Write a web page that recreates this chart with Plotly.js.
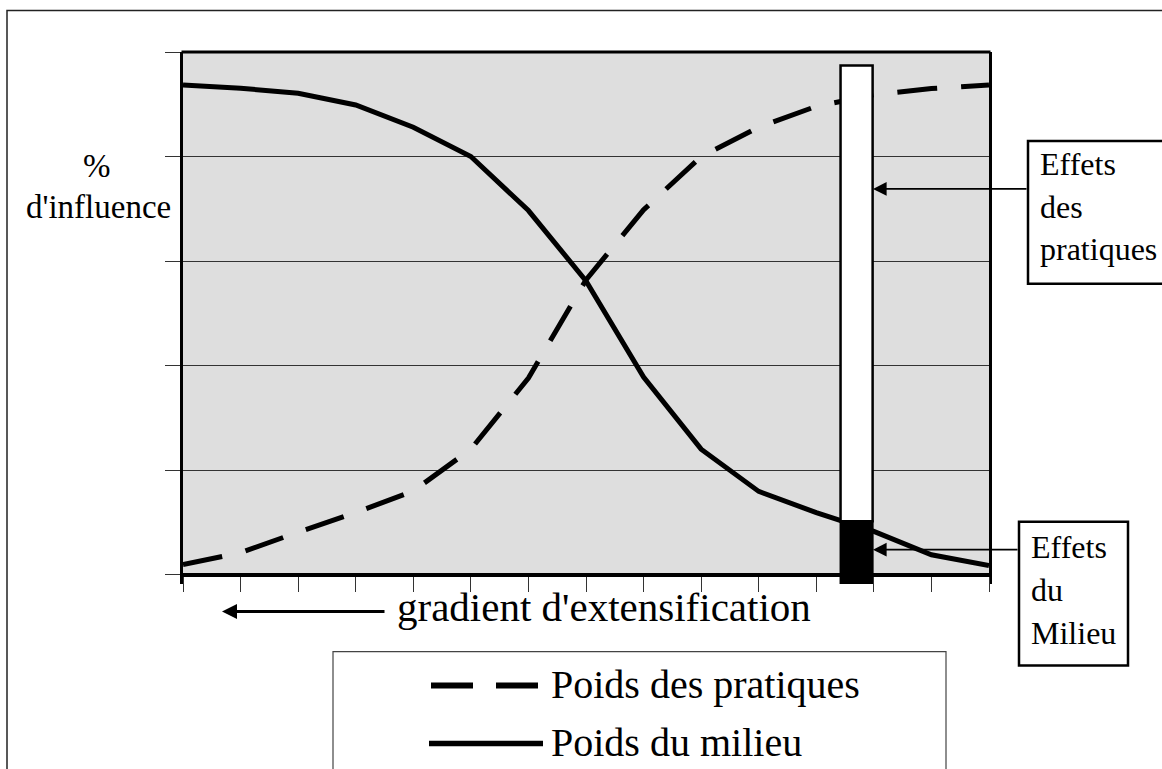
<!DOCTYPE html>
<html><head><meta charset="utf-8">
<script src="https://cdn.plot.ly/plotly-3.0.1.min.js"></script>
<style>html,body{margin:0;padding:0;background:#fff}#chart{width:1162px;height:769px}</style>
</head><body><div id="chart"></div>
<script>
// ---- data ----
const positions = [0,1,2,3,4,5,6,7,8,9,10,11,12,13,14];
const poidsPratiques = [0.096,0.21,0.406,0.593,0.80,1.20,1.88,2.82,3.49,4.0,4.28,4.48,4.59,4.65,4.685];
const poidsMilieu = [4.685,4.653,4.605,4.493,4.28,4.0,3.483,2.81,1.89,1.20,0.796,0.593,0.414,0.19,0.086];
const yTicks = [0,1,2,3,4,5];
const seriesNames = ['Poids des pratiques','Poids du milieu'];
const effetsBarPos = [11.7];
const effetsMilieu = [-0.09, 0.51];     // [bottom, top]
const effetsPratiques = [0.51, 4.87];   // [bottom, top]
const yLabelLines = ['%', "d'influence"];
const xTitle = "gradient d'extensification";
const pratiquesBoxLines = ['Effets','des','pratiques'];
const milieuBoxLines = ['Effets','du','Milieu'];

// ---- geometry helpers (plot area in pixels) ----
const W = 1162, H = 769;
const L = 183, R = 989, T = 52, B = 584.4;
const yMin = -0.09, yMax = 5;
const px = x => (x - L) / (R - L);
const py = y => (B - y) / (B - T);
const FONT = 'Liberation Serif, Times New Roman, serif';

const traces = [
  {x: positions, y: poidsPratiques, name: seriesNames[0], mode: 'lines',
   line: {color: '#000', width: 5, dash: '40px,24px'}, showlegend: false, hoverinfo: 'skip'},
  {x: positions, y: poidsMilieu, name: seriesNames[1], mode: 'lines',
   line: {color: '#000', width: 5}, showlegend: false, hoverinfo: 'skip'},
  {type: 'bar', x: effetsBarPos, base: [effetsMilieu[0]], y: [effetsMilieu[1] - effetsMilieu[0]],
   width: [0.557], marker: {color: '#000', line: {color: '#000', width: 2}},
   xaxis: 'x2', yaxis: 'y2', showlegend: false, hoverinfo: 'skip'},
  {type: 'bar', x: effetsBarPos, base: [effetsPratiques[0]], y: [effetsPratiques[1] - effetsPratiques[0]],
   width: [0.557], marker: {color: '#fff', line: {color: '#000', width: 2.5}},
   xaxis: 'x2', yaxis: 'y2', showlegend: false, hoverinfo: 'skip'}
];

const txt = (text, x, y, size, anchor) => ({
  text: text, xref: 'paper', yref: 'paper', x: px(x), y: py(y),
  xanchor: anchor || 'center', yanchor: 'middle', showarrow: false,
  font: {family: FONT, size: size, color: '#000'}
});
const arrow = (tipX, tipY, tailX, width, size) => ({
  text: '', xref: 'paper', yref: 'paper', x: px(tipX), y: py(tipY),
  ax: tailX - tipX, ay: 0, showarrow: true, arrowhead: 2, arrowsize: size,
  arrowwidth: width, arrowcolor: '#000', standoff: 0
});

const annotations = [
  txt(yLabelLines[0], 97, 166, 33),
  txt(yLabelLines[1], 98, 207, 33),
  txt(xTitle, 604, 607, 41),
  arrow(222, 612, 386, 3, 1),
  txt(pratiquesBoxLines[0], 1038, 164, 32, 'left'),
  txt(pratiquesBoxLines[1], 1038, 207, 32, 'left'),
  txt(pratiquesBoxLines[2], 1038, 249, 32, 'left'),
  arrow(873, 189, 1028, 1.6, 1.7),
  txt(milieuBoxLines[0], 1029, 547, 32, 'left'),
  txt(milieuBoxLines[1], 1029, 590, 32, 'left'),
  txt(milieuBoxLines[2], 1029, 633, 32, 'left'),
  arrow(873, 550, 1019, 1.6, 1.7),
  txt(seriesNames[0], 549, 685, 40, 'left'),
  txt(seriesNames[1], 549, 743, 40, 'left')
];

const pbox = (x0, y0, x1, y1, w, c) => ({
  type: 'rect', xref: 'paper', yref: 'paper', x0: px(x0), x1: px(x1), y0: py(y1), y1: py(y0),
  line: {color: c || '#000', width: w}, fillcolor: 'rgba(0,0,0,0)', layer: 'above'
});
const pline = (x0, y0, x1, y1, w, dash) => ({
  type: 'line', xref: 'paper', yref: 'paper', x0: px(x0), x1: px(x1), y0: py(y0), y1: py(y1),
  line: {color: '#000', width: w, dash: dash || 'solid'}, layer: 'above'
});

const shapes = [
  // gray plotting background
  {type: 'rect', xref: 'x', yref: 'y', x0: positions[0], x1: positions[positions.length-1],
   y0: yTicks[0], y1: yTicks[yTicks.length-1], fillcolor: '#dedede', line: {width: 0}, layer: 'below'},
  // plot frame top and bottom
  pline(L - 1.5, T, R + 1.5, T, 3),
  pline(L - 1.5, 575, R + 1.5, 575, 3),
  // outer frame
  pbox(7, 10.5, 1300, 900, 1.5, '#222'),
  // annotation boxes
  pbox(1028, 141, 1300, 284, 2.5),
  pbox(1019, 522, 1128, 666, 2.5),
  // legend box
  pbox(333, 652, 946, 900, 1.2, '#444'),
  pline(431, 686, 538, 686, 6, '42px,23px'),
  pline(429, 744, 543, 744, 5.5)
];

const xPos = (0 - yMin) / (yMax - yMin);

const layout = {
  width: W, height: H,
  margin: {l: L, r: W - R, t: T, b: H - B, pad: 0},
  paper_bgcolor: '#fff', plot_bgcolor: 'rgba(0,0,0,0)',
  showlegend: false, barmode: 'overlay',
  xaxis: {range: [positions[0], positions[positions.length-1]], anchor: 'free', position: xPos,
          tickvals: positions, showticklabels: false, ticks: 'outside', ticklen: 15, tickwidth: 1,
          tickcolor: '#333', showline: true, linecolor: '#000', linewidth: 3,
          showgrid: false, zeroline: false, fixedrange: true},
  yaxis: {range: [yMin, yMax], tickvals: yTicks, showticklabels: false, ticks: 'outside',
          ticklen: 15, tickwidth: 1, tickcolor: '#333', showline: true, linecolor: '#000',
          linewidth: 3, mirror: true, showgrid: true, gridcolor: '#333', gridwidth: 1,
          zeroline: false, fixedrange: true},
  xaxis2: {overlaying: 'x', range: [positions[0], positions[positions.length-1]], visible: false, anchor: 'y2'},
  yaxis2: {overlaying: 'y', range: [yMin, yMax], visible: false, anchor: 'x2'},
  annotations: annotations,
  shapes: shapes
};

Plotly.newPlot('chart', traces, layout, {displayModeBar: false, staticPlot: true});
</script></body></html>
